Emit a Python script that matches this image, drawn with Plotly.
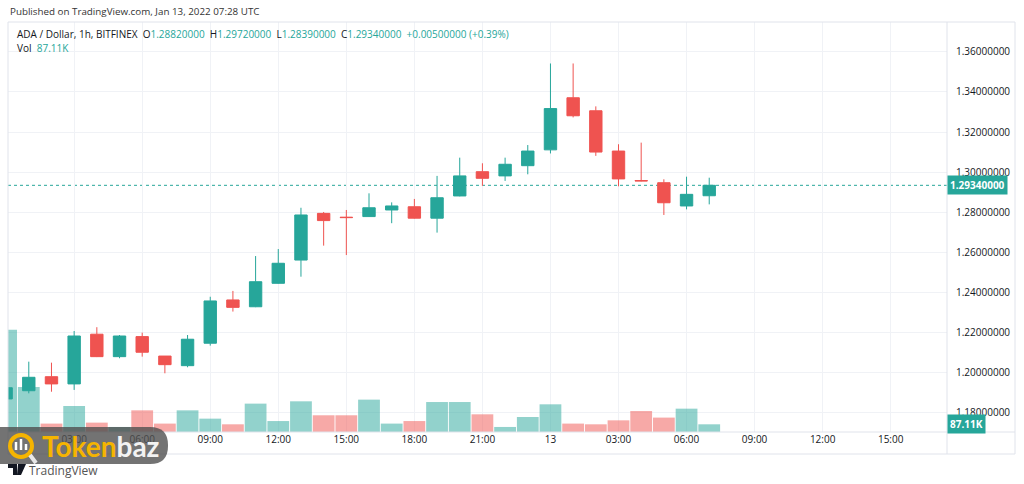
import plotly.graph_objects as go
import pandas as pd

# ---------------- data ----------------
times = pd.date_range("2022-01-12 00:00", periods=32, freq="h")
open_ = [1.1868, 1.1909, 1.1979, 1.1943, 1.2191, 1.2079, 1.2179, 1.2082, 1.2034, 1.2146,
         1.2362, 1.2328, 1.2445, 1.2561, 1.2794, 1.2775, 1.2778, 1.2811, 1.2827, 1.2770,
         1.2881, 1.3002, 1.2981, 1.3032, 1.3111, 1.3371, 1.3306, 1.3105, 1.2958, 1.2947,
         1.2831, 1.2882]
high = [1.1930, 1.2054, 1.2049, 1.2207, 1.2226, 1.2187, 1.2199, 1.2082, 1.2187, 1.2378,
        1.2407, 1.2581, 1.2616, 1.2822, 1.2801, 1.2811, 1.2894, 1.2849, 1.2866, 1.2981,
        1.3072, 1.3044, 1.3072, 1.3135, 1.3542, 1.3542, 1.3328, 1.3139, 1.3147, 1.2964,
        1.2977, 1.2972]
low = [1.1862, 1.1896, 1.1904, 1.1913, 1.2077, 1.2071, 1.2079, 1.1996, 1.2026, 1.2134,
       1.2304, 1.2326, 1.2443, 1.2478, 1.2633, 1.2586, 1.2776, 1.2745, 1.2768, 1.2698,
       1.2879, 1.2931, 1.2956, 1.2989, 1.3093, 1.3273, 1.3081, 1.2929, 1.2954, 1.2786,
       1.2814, 1.2839]
close = [1.1924, 1.1976, 1.1943, 1.2182, 1.2079, 1.2182, 1.2101, 1.2039, 1.2166, 1.2357,
         1.2325, 1.2453, 1.2545, 1.2786, 1.2758, 1.2773, 1.2822, 1.2831, 1.2770, 1.2872,
         1.2981, 1.2969, 1.3039, 1.3105, 1.3317, 1.3281, 1.3100, 1.2966, 1.2956, 1.2847,
         1.2889, 1.2934]
volume_k = [1157, 509, 95, 294, 106, 57, 245, 95, 245, 151, 87, 321, 124, 347, 189, 189,
            366, 95, 124, 339, 339, 200, 57, 170, 313, 95, 87, 132, 237, 163, 264, 87.11]
tick_times = pd.date_range("2022-01-12 03:00", periods=13, freq="3h")
tick_labels = ["03:00", "06:00", "09:00", "12:00", "15:00", "18:00", "21:00", "13",
               "03:00", "06:00", "09:00", "12:00", "15:00"]
price_ticks = [1.18, 1.20, 1.22, 1.24, 1.26, 1.28, 1.30, 1.32, 1.34, 1.36]
last_price = 1.2934
last_vol = 87.11

# ---------------- styles ----------------
UP = "#26a69a"
DOWN = "#ef5350"
UP_V = "rgba(38,166,154,0.5)"
DOWN_V = "rgba(239,83,80,0.5)"
GRID = "#f0f2f6"
BORDER = "#e0e3eb"
TXT = "#131722"
FONT = "Open Sans"

W, H = 1024, 484
L, R, T, B = 8, 947, 22, 432


def px(X):
    return (X - L) / (R - L)


def py(Y):
    return (B - Y) / (B - T)


vol_colors = [UP_V if c >= o else DOWN_V for o, c in zip(open_, close)]

fig = go.Figure()
fig.add_trace(go.Bar(
    x=times, y=[v * 1000 for v in volume_k], marker=dict(color=vol_colors, line=dict(width=0)),
    yaxis="y", hoverinfo="skip", showlegend=False))
fig.add_trace(go.Candlestick(
    x=times, open=open_, high=high, low=low, close=close, yaxis="y2",
    increasing=dict(line=dict(color=UP, width=1), fillcolor=UP),
    decreasing=dict(line=dict(color=DOWN, width=1), fillcolor=DOWN),
    whiskerwidth=0, hoverinfo="skip", showlegend=False))

shapes = []
# current price dotted line
shapes.append(dict(type="line", xref="paper", x0=0, x1=1, yref="y2", y0=last_price, y1=last_price,
                   line=dict(color=UP, width=1, dash="dot"), layer="below"))
# outer frame
shapes.append(dict(type="rect", xref="paper", yref="paper", x0=px(8), x1=px(1015), y0=py(454), y1=py(22),
                   line=dict(color=BORDER, width=1), fillcolor="rgba(0,0,0,0)", layer="above"))
shapes.append(dict(type="line", xref="paper", yref="paper", x0=px(8), x1=px(1015), y0=py(432), y1=py(432),
                   line=dict(color=BORDER, width=1)))
shapes.append(dict(type="line", xref="paper", yref="paper", x0=px(947), x1=px(947), y0=py(454), y1=py(22),
                   line=dict(color=BORDER, width=1)))


# watermark (Tokenbaz)
def rr_path(x0, y0, x1, y1, r):
    X0, X1 = px(x0), px(x1)
    Y0, Y1 = py(y0), py(y1)
    rx = r / (R - L)
    ry = r / (B - T)
    return (f"M {X0},{Y0} L {X1 - rx},{Y0} Q {X1},{Y0} {X1},{Y0 - ry} "
            f"L {X1},{Y1 + ry} Q {X1},{Y1} {X1 - rx},{Y1} L {X0},{Y1} Z")


shapes.append(dict(type="path", xref="paper", yref="paper", path=rr_path(0, 427, 168, 464, 18),
                   fillcolor="rgba(80,80,80,0.8)", line=dict(width=0), layer="above"))
shapes.append(dict(type="circle", xref="paper", yref="paper", x0=px(10), x1=px(32), y0=py(457), y1=py(435),
                   line=dict(color="#f5b400", width=4), fillcolor="rgba(0,0,0,0)", layer="above"))
shapes.append(dict(type="line", xref="paper", yref="paper", x0=px(30), x1=px(36), y0=py(455), y1=py(463),
                   line=dict(color="#e8e8e8", width=4), layer="above"))
for bx, by0, by1 in [(16, 450, 442), (21, 450, 439), (26, 450, 444)]:
    shapes.append(dict(type="line", xref="paper", yref="paper", x0=px(bx), x1=px(bx), y0=py(by0), y1=py(by1),
                       line=dict(color="#ffffff", width=2.5), layer="above"))
# TradingView logo mark
shapes.append(dict(type="path", xref="paper", yref="paper",
                   path=(f"M {px(8)},{py(464)} L {px(17)},{py(464)} L {px(17)},{py(475)} L {px(13)},{py(475)} "
                         f"L {px(13)},{py(468)} L {px(8)},{py(468)} Z"),
                   fillcolor="#131722", line=dict(width=0), layer="above"))
shapes.append(dict(type="path", xref="paper", yref="paper",
                   path=(f"M {px(18)},{py(464)} L {px(26)},{py(464)} L {px(21)},{py(475)} L {px(17)},{py(475)} Z"),
                   fillcolor="#131722", line=dict(width=0), layer="above"))

annotations = []
annotations.append(dict(xref="paper", yref="paper", x=px(8), y=py(12), xanchor="left", yanchor="middle",
                        text="Published on TradingView.com, Jan 13, 2022 07:28 UTC", showarrow=False,
                        font=dict(family=FONT, size=9.8, color="#333333")))
g = "#131722"
legend = (f"ADA / Dollar, 1h, BITFINEX&nbsp;&nbsp;"
          f"O<span style='color:{UP}'>1.28820000</span>&nbsp;&nbsp;"
          f"H<span style='color:{UP}'>1.29720000</span>&nbsp;&nbsp;"
          f"L<span style='color:{UP}'>1.28390000</span>&nbsp;&nbsp;"
          f"C<span style='color:{UP}'>1.29340000</span>&nbsp;&nbsp;"
          f"<span style='color:{UP}'>+0.00500000 (+0.39%)</span>")
annotations.append(dict(xref="paper", yref="paper", x=px(15), y=py(34), xanchor="left", yanchor="middle",
                        text=legend, showarrow=False, font=dict(family=FONT, size=10, color=g)))
annotations.append(dict(xref="paper", yref="paper", x=px(15), y=py(48), xanchor="left", yanchor="middle",
                        text=f"Vol&nbsp;&nbsp;<span style='color:{UP}'>{last_vol:.2f}K</span>", showarrow=False,
                        font=dict(family=FONT, size=10, color=g)))
# price label
annotations.append(dict(xref="paper", yref="y2", x=px(947), y=last_price, xanchor="left", yanchor="middle",
                        text=f"<b>{last_price:.8f}</b>", showarrow=False, bgcolor=UP, borderpad=2,
                        font=dict(family=FONT, size=10, color="white")))
annotations.append(dict(xref="paper", yref="y", x=px(947), y=last_vol * 1000, xanchor="left", yanchor="middle",
                        text=f"<b>{last_vol:.2f}K</b>", showarrow=False, bgcolor=UP, borderpad=2,
                        font=dict(family=FONT, size=10, color="white")))
# watermark text
annotations.append(dict(xref="paper", yref="paper", x=px(40), y=py(446), xanchor="left", yanchor="middle",
                        text="<b><span style='color:#f5b400'>Token</span>baz</b>", showarrow=False,
                        font=dict(family="Lato", size=28, color="#f2f2f2")))
annotations.append(dict(xref="paper", yref="paper", x=px(27), y=py(470), xanchor="left", yanchor="middle",
                        text="TradingView", showarrow=False, font=dict(family=FONT, size=12, color="#555555")))

fig.update_layout(
    width=W, height=H,
    margin=dict(l=L, r=W - R, t=T, b=H - B),
    paper_bgcolor="white", plot_bgcolor="white",
    showlegend=False, bargap=0.04, boxgap=0.22,
    font=dict(family=FONT, size=10, color=TXT),
    xaxis=dict(type="date", range=["2022-01-12 00:05", "2022-01-13 17:29"],
               tickvals=list(tick_times), ticktext=tick_labels,
               showgrid=True, gridcolor=GRID, gridwidth=1, zeroline=False,
               showline=False, ticks="", tickfont=dict(family=FONT, size=10, color=TXT),
               rangeslider=dict(visible=False), fixedrange=True),
    yaxis=dict(range=[0, 4637000], visible=False, showgrid=False, fixedrange=True),
    yaxis2=dict(overlaying="y", side="right", range=[1.1703, 1.3749], tickvals=price_ticks,
                ticktext=[f"{p:.8f}" for p in price_ticks], showgrid=True, gridcolor=GRID,
                zeroline=False, showline=False, ticks="outside", ticklen=6, tickcolor="rgba(0,0,0,0)",
                tickfont=dict(family=FONT, size=10, color=TXT), fixedrange=True),
    shapes=shapes, annotations=annotations,
)

fig.write_html("out.html", config={"displayModeBar": False, "staticPlot": True})
